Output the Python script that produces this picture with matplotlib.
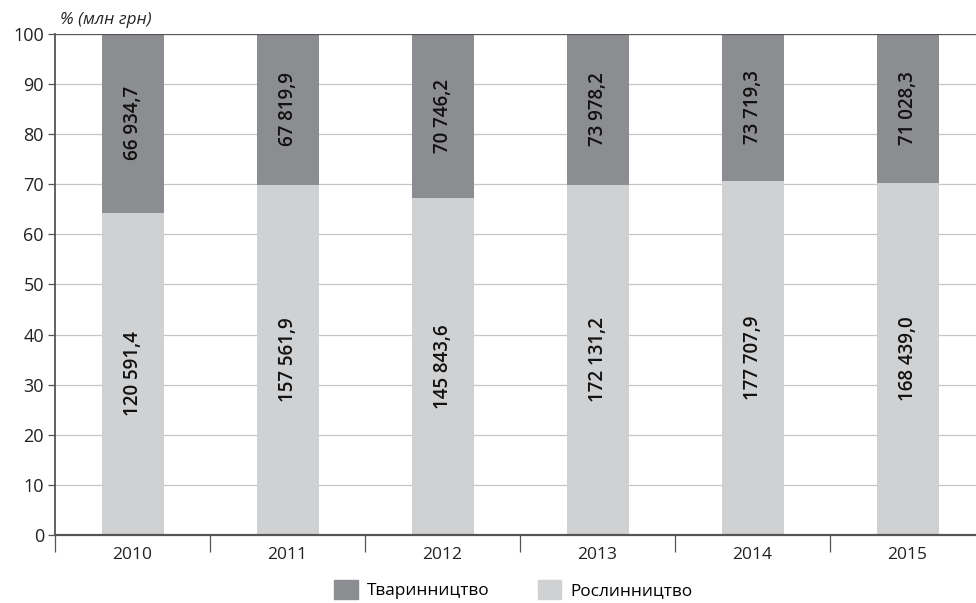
import numpy as np
import matplotlib
matplotlib.use("Agg")
import matplotlib.pyplot as plt
from matplotlib.patches import Patch

plt.rcParams["font.family"] = ["Open Sans", "DejaVu Sans"]

# Дані (млн грн)
years = ["2010", "2011", "2012", "2013", "2014", "2015"]
roslynnytstvo = [120591.4, 157561.9, 145843.6, 172131.2, 177707.9, 168439.0]
tvarynnytstvo = [66934.7, 67819.9, 70746.2, 73978.2, 73719.3, 71028.3]

light = "#d0d1d3"
dark = "#8c8d90"
axis_col = "#555555"


def fmt(v):
    s = f"{v:,.1f}"
    return s.replace(",", " ").replace(".", ",")


ros = np.array(roslynnytstvo)
tva = np.array(tvarynnytstvo)
total = ros + tva
ros_pct = ros / total * 100
tva_pct = tva / total * 100

fig = plt.figure(figsize=(9.76, 6.03), dpi=100)
# область графіка трохи виходить за правий край, як в оригіналі
ax = fig.add_axes([0.0564, 0.1128, 0.9529, 0.8308])

x = np.arange(len(years))
w = 0.4
ax.bar(x, ros_pct, w, color=light, zorder=2)
ax.bar(x, tva_pct, w, bottom=ros_pct, color=dark, zorder=2)

for i in range(len(years)):
    ax.text(x[i], ros_pct[i] / 2, fmt(ros[i]), rotation=90, ha="center",
            va="center", fontsize=13.5, fontweight="semibold", color="#111111", zorder=3)
    ax.text(x[i], ros_pct[i] + tva_pct[i] / 2, fmt(tva[i]), rotation=90,
            ha="center", va="center", fontsize=13.5, fontweight="semibold",
            color="#111111", zorder=3)

ax.set_xlim(-0.5, len(years) - 0.5)
ax.set_ylim(0, 100)
ax.set_yticks(np.arange(0, 101, 10))
ax.yaxis.grid(True, color="#c6c6c6", linewidth=0.9, zorder=0)
ax.axhline(100, color=axis_col, linewidth=1.6, zorder=4)

# x: мітки по центру, риски між категоріями
ax.set_xticks(np.arange(-0.5, len(years), 1))
ax.set_xticklabels([])
ax.set_xticks(x, minor=True)
ax.set_xticklabels(years, minor=True)
ax.tick_params(axis="x", which="major", length=12, width=0.9, color=axis_col)
ax.tick_params(axis="x", which="minor", length=0, pad=9, labelsize=12.5,
               labelcolor="#222222")
ax.tick_params(axis="y", length=5, width=0.9, color=axis_col, labelsize=13,
               labelcolor="#222222", pad=3)

for s in ["top", "right"]:
    ax.spines[s].set_visible(False)
ax.spines["left"].set_color(axis_col)
ax.spines["left"].set_linewidth(1.3)
ax.spines["bottom"].set_color(axis_col)
ax.spines["bottom"].set_linewidth(1.6)
ax.spines["bottom"].set_zorder(4)

fig.text(0.061, 0.967, "% (млн грн)", fontsize=12.3, style="italic",
         color="#222222", ha="left", va="center")

handles = [Patch(color=dark, label="Тваринництво"),
           Patch(color=light, label="Рослинництво")]
fig.legend(handles=handles, loc="center", bbox_to_anchor=(0.526, 0.022), ncol=2,
           frameon=False, fontsize=12.4, handlelength=1.34, handleheight=1.3,
           columnspacing=2.85, handletextpad=0.52, borderpad=0.1)

fig.savefig("out.png", dpi=100)
